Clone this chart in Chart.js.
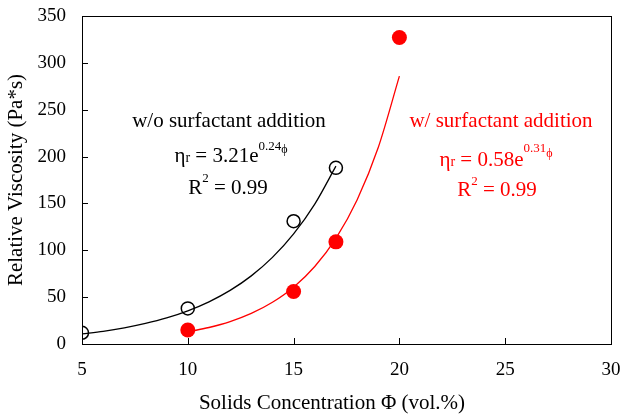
<!DOCTYPE html>
<html>
<head>
<meta charset="utf-8">
<script src="https://cdn.jsdelivr.net/npm/chart.js@4/dist/chart.umd.min.js"></script>
<style>
html,body{margin:0;padding:0;background:#fff;}
#wrap{width:622px;height:416px;position:relative;}
</style>
</head>
<body>
<div id="wrap"><canvas id="c" width="622" height="416"></canvas></div>
<script>
// Measured points
const woX = [5, 10, 15, 17];
const woY = [12, 38, 131, 188];
const wX = [10, 15, 17, 20];
const wY = [15, 56, 109, 327];
// Trend curves
const woCurveX = [5, 6, 7, 8, 9, 10, 11, 12, 13, 14, 15, 16, 17];
const woCurveY = [10.7, 13.5, 17.2, 21.9, 27.8, 35.4, 45.0, 57.2, 72.7, 92.4, 117.5, 149.3, 189.8];
const wCurveX = [10, 11, 12, 13, 14, 15, 16, 17, 18, 19, 20];
const wCurveY = [12.9, 17.6, 23.9, 32.6, 44.5, 60.6, 82.7, 112.8, 153.7, 209.6, 285.8];
const xTicks = [5, 10, 15, 20, 25, 30];
const yTicks = [0, 50, 100, 150, 200, 250, 300, 350];
const xTitle = 'Solids Concentration Φ (vol.%)';
const yTitle = 'Relative Viscosity (Pa*s)';

const FONT = "'Liberation Serif', 'Times New Roman', serif";
const RED = '#ff0000';

function pts(xs, ys){ return xs.map((x,i)=>({x:x, y:ys[i]})); }
function noPad(s){ s.paddingTop = 0; s.paddingBottom = 0; s.paddingLeft = 0; s.paddingRight = 0; }

const boxPlugin = {
  id: 'box',
  afterDraw(chart){
    const {ctx, chartArea:a, scales} = chart;
    ctx.save();
    ctx.strokeStyle = '#000';
    ctx.lineWidth = 1;
    ctx.strokeRect(Math.round(a.left)+0.5, Math.round(a.top)+0.5, Math.round(a.right-a.left), Math.round(a.bottom-a.top));
    ctx.beginPath();
    xTicks.forEach(v=>{
      const px = Math.round(scales.x.getPixelForValue(v))+0.5;
      ctx.moveTo(px, a.bottom); ctx.lineTo(px, a.bottom-6);
    });
    yTicks.forEach(v=>{
      const py = Math.round(scales.y.getPixelForValue(v))+0.5;
      ctx.moveTo(a.left, py); ctx.lineTo(a.left+6, py);
    });
    ctx.stroke();
    // x axis title
    ctx.fillStyle = '#000';
    ctx.font = '21px ' + FONT;
    ctx.textAlign = 'center';
    ctx.textBaseline = 'alphabetic';
    ctx.fillText(xTitle, 332, 409);
    ctx.restore();
  }
};

function drawRuns(ctx, runs, cx, baseline, color){
  let total = 0;
  runs.forEach(r=>{ ctx.font = r.size+'px '+FONT; r.w = ctx.measureText(r.t).width; total += r.w; });
  let x = cx - total/2;
  ctx.fillStyle = color;
  ctx.textAlign = 'left';
  ctx.textBaseline = 'alphabetic';
  runs.forEach(r=>{
    ctx.font = r.size+'px '+FONT;
    ctx.fillText(r.t, x, baseline + (r.dy||0));
    x += r.w;
  });
}

const annoPlugin = {
  id: 'anno',
  afterDraw(chart){
    const ctx = chart.ctx;
    ctx.save();
    drawRuns(ctx, [{t:'w/o surfactant addition', size:21}], 229, 127, '#000');
    drawRuns(ctx, [
      {t:'η', size:21}, {t:'r', size:14}, {t:' = 3.21e', size:21},
      {t:'0.24', size:13, dy:-12}, {t:'ϕ', size:12, dy:-9}
    ], 231, 162, '#000');
    drawRuns(ctx, [{t:'R', size:21}, {t:'2', size:13, dy:-12}, {t:' = 0.99', size:21}], 228, 194, '#000');

    drawRuns(ctx, [{t:'w/ surfactant addition', size:21}], 501, 127, RED);
    drawRuns(ctx, [
      {t:'η', size:21}, {t:'r', size:14}, {t:' = 0.58e', size:21},
      {t:'0.31', size:13, dy:-14}, {t:'ϕ', size:12, dy:-9}
    ], 496, 166, RED);
    drawRuns(ctx, [{t:'R', size:21}, {t:'2', size:13, dy:-11}, {t:' = 0.99', size:21}], 497, 196, RED);
    ctx.restore();
  }
};

new Chart(document.getElementById('c'), {
  type: 'scatter',
  data: {
    datasets: [
      { data: pts(woCurveX, woCurveY), showLine: true, borderColor: '#000', borderWidth: 1.3,
        pointRadius: 0, cubicInterpolationMode: 'monotone', fill: false },
      { data: pts(wCurveX, wCurveY), showLine: true, borderColor: RED, borderWidth: 1.3,
        pointRadius: 0, cubicInterpolationMode: 'monotone', fill: false },
      { data: pts(woX, woY), showLine: false, pointRadius: 6.5, pointBorderWidth: 1.5,
        pointBorderColor: '#000', pointBackgroundColor: 'rgba(255,255,255,0)' },
      { data: pts(wX, wY), showLine: false, pointRadius: 7.5, pointBorderWidth: 0,
        pointBorderColor: RED, pointBackgroundColor: RED }
    ]
  },
  options: {
    responsive: false,
    animation: false,
    devicePixelRatio: 1,
    layout: { autoPadding: false, padding: { top: 16, right: 11, left: 0, bottom: 0 } },
    plugins: { legend: { display: false }, tooltip: { enabled: false } },
    scales: {
      x: {
        type: 'linear', min: 5, max: 30,
        afterBuildTicks(s){ s.ticks = xTicks.map(v=>({value:v})); },
        afterFit(s){ s.height = 72; noPad(s); },
        grid: { display: false, drawTicks: false },
        border: { display: false },
        ticks: { color: '#000', font: { family: FONT, size: 19 }, padding: 15, maxRotation: 0 },
        title: { display: false }
      },
      y: {
        type: 'linear', min: 0, max: 350,
        afterBuildTicks(s){ s.ticks = yTicks.map(v=>({value:v})); },
        afterFit(s){ s.width = 82; noPad(s); },
        grid: { display: false, drawTicks: false },
        border: { display: false },
        ticks: { color: '#000', font: { family: FONT, size: 19 }, padding: 16 },
        title: { display: true, text: yTitle, color: '#000',
                 font: { family: FONT, size: 21 }, padding: { top: 4, bottom: 4 } }
      }
    }
  },
  plugins: [boxPlugin, annoPlugin]
});
</script>
</body>
</html>
